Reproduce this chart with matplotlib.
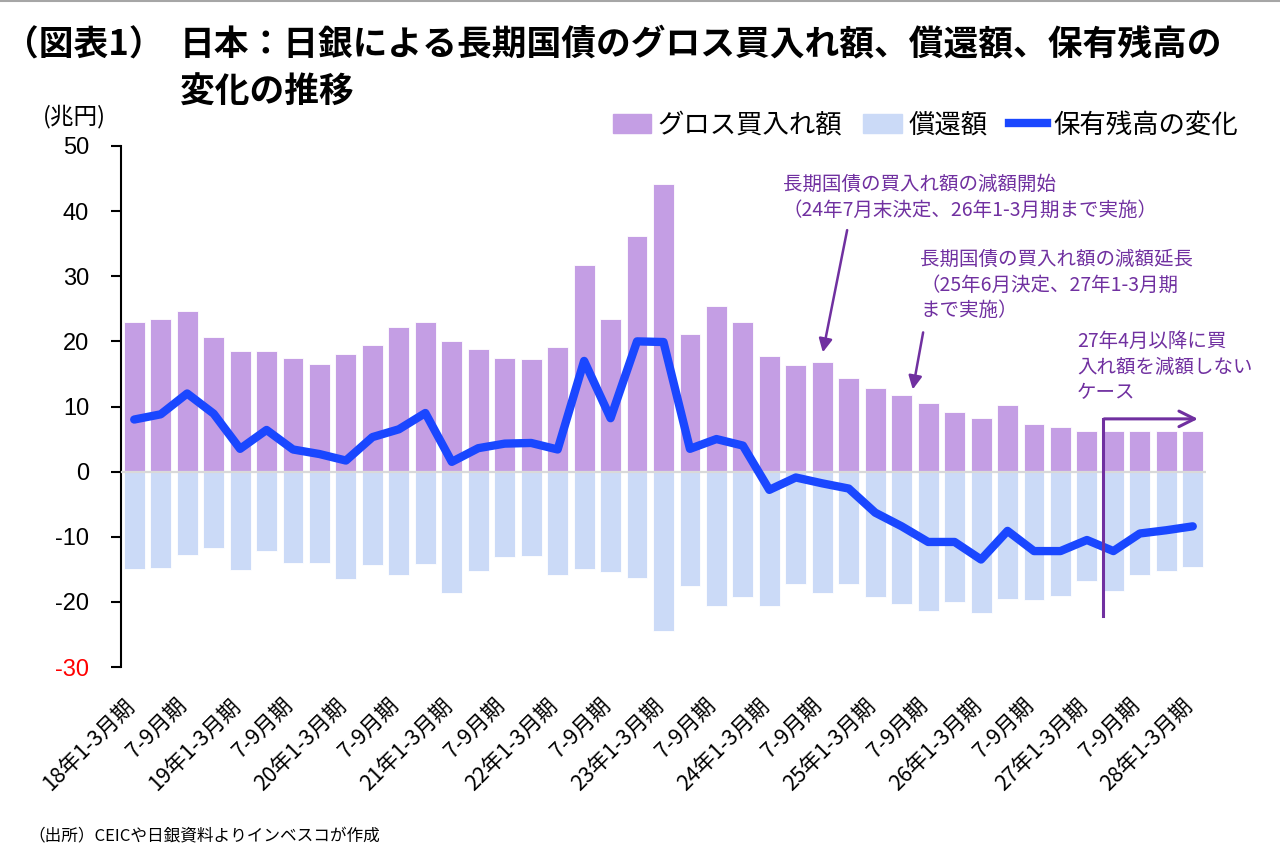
import numpy as np
import matplotlib
matplotlib.use('Agg')
import matplotlib.pyplot as plt
from matplotlib.patches import Patch
from matplotlib.lines import Line2D
from matplotlib.transforms import ScaledTranslation

plt.rcParams['font.family'] = ['Noto Sans CJK JP', 'DejaVu Sans']

# 四半期ごとのデータ（兆円）：18年1-3月期〜28年1-3月期
gross = [22.9, 23.5, 24.7, 20.6, 18.5, 18.5, 17.4, 16.5, 18.1, 19.5,
         22.2, 23.0, 20.0, 18.8, 17.4, 17.3, 19.1, 31.8, 23.4, 36.2,
         44.2, 21.1, 25.4, 22.9, 17.7, 16.3, 16.9, 14.3, 12.9, 11.8,
         10.6, 9.2, 8.2, 10.3, 7.3, 6.8, 6.2, 6.2, 6.2, 6.2, 6.2]
redemption = [-15.0, -14.8, -12.8, -11.8, -15.1, -12.2, -14.0, -14.0, -16.5, -14.3,
              -15.8, -14.2, -18.6, -15.2, -13.1, -13.0, -15.8, -15.0, -15.4, -16.4,
              -24.4, -17.6, -20.6, -19.3, -20.6, -17.2, -18.7, -17.2, -19.3, -20.3,
              -21.4, -20.0, -21.7, -19.5, -19.7, -19.1, -16.8, -18.4, -15.8, -15.2, -14.7]
change = [8.0, 8.8, 12.0, 8.9, 3.5, 6.4, 3.4, 2.7, 1.7, 5.3,
          6.5, 9.0, 1.5, 3.6, 4.3, 4.4, 3.4, 17.0, 8.2, 20.0,
          19.9, 3.5, 5.0, 4.0, -2.8, -0.9, -1.8, -2.6, -6.3, -8.4,
          -10.8, -10.8, -13.5, -9.1, -12.2, -12.2, -10.5, -12.2, -9.5, -9.0, -8.4]
tick_labels = ['18年1-3月期', '7-9月期', '19年1-3月期', '7-9月期', '20年1-3月期', '7-9月期',
               '21年1-3月期', '7-9月期', '22年1-3月期', '7-9月期', '23年1-3月期', '7-9月期',
               '24年1-3月期', '7-9月期', '25年1-3月期', '7-9月期', '26年1-3月期', '7-9月期',
               '27年1-3月期', '7-9月期', '28年1-3月期']
yticks = [50, 40, 30, 20, 10, 0, -10, -20, -30]

C_GROSS = '#C49EE4'
C_RED = '#CBDAF7'
C_LINE = '#1A47FF'
C_ANN = '#7030A0'

W, H = 1280, 860


def px(x, y):
    return x / W, 1 - y / H


fig = plt.figure(figsize=(12.8, 8.6), dpi=100)
ax = fig.add_axes([121 / W, 1 - 667 / H, (1206 - 121) / W, (667 - 146) / H])

x = np.arange(len(gross))
ax.bar(x, gross, width=0.79, color=C_GROSS, edgecolor='white', linewidth=0.6, zorder=2)
ax.bar(x, redemption, width=0.79, color=C_RED, edgecolor='white', linewidth=0.6, zorder=2)
ax.axhline(0, color='#D9D9D9', lw=1.6, zorder=3)
ax.plot(x, change, color=C_LINE, lw=6, solid_capstyle='round', solid_joinstyle='round', zorder=5)

ax.set_xlim(-0.5, len(gross) - 0.5)
ax.set_ylim(-30, 50)
ax.set_yticks(yticks)
ax.set_yticklabels([str(v) for v in yticks], fontsize=17, family=['Liberation Sans', 'DejaVu Sans'])
for lab in ax.get_yticklabels():
    if lab.get_text() == '-30':
        lab.set_color('red')
ax.tick_params(axis='y', direction='out', length=7, width=1.5, pad=16)

ax.set_xticks(x[::2])
ax.set_xticklabels(tick_labels, rotation=45, ha='right', rotation_mode='anchor', fontsize=15.5)
ax.tick_params(axis='x', length=0, pad=20)
shift = ScaledTranslation(-0.11, 0, fig.dpi_scale_trans)
for lab in ax.get_xticklabels():
    lab.set_transform(lab.get_transform() + shift)

for s in ['top', 'right', 'bottom']:
    ax.spines[s].set_visible(False)
ax.spines['left'].set_linewidth(1.5)

# 注記
ax.annotate('', xy=(26.0, gross[26] + 1.0), xytext=(26.96, 37.5),
            arrowprops=dict(arrowstyle='-|>', color=C_ANN, lw=1.8, mutation_scale=20), zorder=6)
ax.annotate('', xy=(29.4, gross[29] + 0.4), xytext=(29.83, 21.8),
            arrowprops=dict(arrowstyle='-|>', color=C_ANN, lw=1.8, mutation_scale=20), zorder=6)
ax.plot([36.6, 36.6], [-22.2, 8.1], color=C_ANN, lw=2.2, zorder=6)
ax.annotate('', xy=(40.3, 8.1), xytext=(36.55, 8.1),
            arrowprops=dict(arrowstyle='->', color=C_ANN, lw=2.2, mutation_scale=28), zorder=6)

fig.text(*px(783, 197), '長期国債の買入れ額の減額開始\n（24年7月末決定、26年1-3月期まで実施）',
         fontsize=14, color=C_ANN, va='center', ha='left', linespacing=1.3)
fig.text(*px(920, 285), '長期国債の買入れ額の減額延長\n（25年6月決定、27年1-3月期\nまで実施）',
         fontsize=14, color=C_ANN, va='center', ha='left', linespacing=1.3)
fig.text(*px(1077, 367), '27年4月以降に買\n入れ額を減額しない\nケース',
         fontsize=14, color=C_ANN, va='center', ha='left', linespacing=1.3)

# タイトル等
fig.text(*px(4, 45), '（図表1）', fontsize=25, fontweight='bold', va='center')
fig.text(*px(180, 45), '日本：日銀による長期国債のグロス買入れ額、償還額、保有残高の',
         fontsize=25, fontweight='bold', va='center')
fig.text(*px(180, 92), '変化の推移', fontsize=25, fontweight='bold', va='center')
fig.text(*px(43, 117), '(兆円)', fontsize=17, va='center')
fig.text(*px(28, 837), '（出所）CEICや日銀資料よりインベスコが作成', fontsize=12, va='center')

handles = [Patch(color=C_GROSS), Patch(color=C_RED), Line2D([], [], color=C_LINE, lw=6)]
fig.legend(handles, ['グロス買入れ額', '償還額', '保有残高の変化'], loc='center right',
           bbox_to_anchor=px(1238, 125), ncol=3, frameon=False, fontsize=19,
           handlelength=1.45, handleheight=0.75, handletextpad=0.25, columnspacing=0.8,
           borderaxespad=0, borderpad=0)

fig.add_artist(Line2D([0, 1], [0.9992, 0.9992], color='#A6A6A6', lw=1.5, transform=fig.transFigure))

fig.savefig('out.png', dpi=100, facecolor='white')
